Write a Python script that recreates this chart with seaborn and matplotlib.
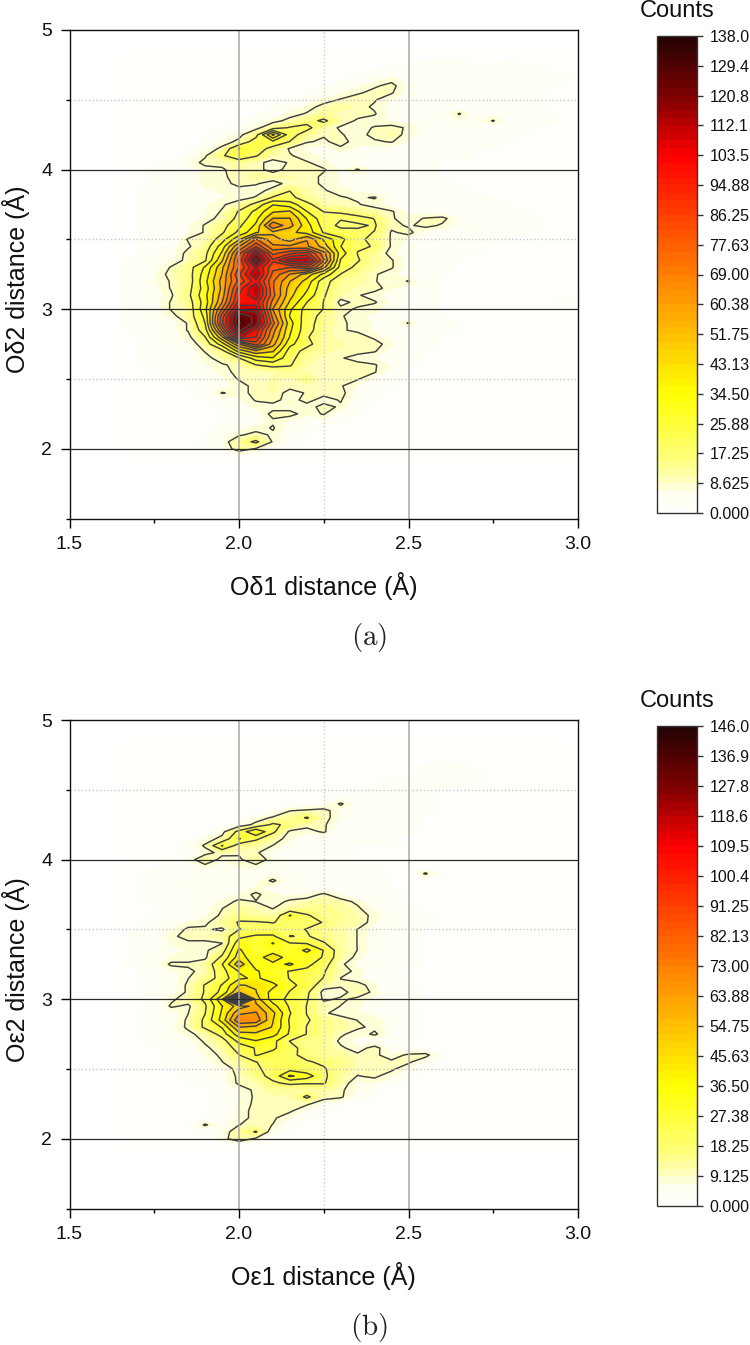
import numpy as np
import matplotlib
matplotlib.use('AGG')
from matplotlib import pyplot as plt
from matplotlib.colors import ListedColormap
import seaborn as sns

# bin centres of the two histograms
x_bins = [1.65, 1.70, 1.75, 1.80, 1.85, 1.90, 1.95, 2.00, 2.05, 2.10, 2.15, 2.20, 2.25, 2.30,
          2.35, 2.40, 2.45, 2.50, 2.55, 2.60, 2.65, 2.70, 2.75, 2.80, 2.85, 2.90, 2.95, 3.00]
y_bins = [4.85, 4.80, 4.75, 4.70, 4.65, 4.60, 4.55, 4.50, 4.45, 4.40, 4.35, 4.30, 4.25, 4.20, 4.15,
          4.10, 4.05, 4.00, 3.95, 3.90, 3.85, 3.80, 3.75, 3.70, 3.65, 3.60, 3.55, 3.50, 3.45, 3.40,
          3.35, 3.30, 3.25, 3.20, 3.15, 3.10, 3.05, 3.00, 2.95, 2.90, 2.85, 2.80, 2.75, 2.70, 2.65,
          2.60, 2.55, 2.50, 2.45, 2.40, 2.35, 2.30, 2.25, 2.20, 2.15, 2.10, 2.05, 2.00, 1.95, 1.90]

# counts, one row per y bin, trailing zeros left out
counts_a = [
    [0, 0, 0, 0, 0, 0, 0, 0, 0, 0, 0, 0, 0, 0, 0, 0, 0, 0, 1, 1, 1, 1, 1, 1, 1],
    [0, 0, 0, 0, 0, 0, 0, 0, 0, 0, 0, 0, 0, 0, 0, 0, 1, 1, 1, 2, 2, 2, 2, 2, 1, 1, 1],
    [0, 0, 0, 0, 0, 0, 0, 0, 0, 0, 0, 0, 0, 0, 1, 1, 2, 2, 3, 3, 3, 2, 2, 3, 2, 2, 1, 1],
    [0, 0, 0, 0, 0, 0, 0, 0, 0, 0, 0, 0, 0, 1, 2, 3, 4, 3, 3, 3, 3, 3, 3, 3, 3, 3, 2, 1],
    [0, 0, 0, 0, 0, 0, 0, 0, 0, 0, 0, 0, 1, 2, 3, 5, 7, 4, 3, 3, 3, 4, 3, 3, 3, 3, 3, 2],
    [0, 0, 0, 0, 0, 0, 0, 0, 0, 0, 0, 1, 2, 4, 6, 8, 10, 5, 3, 3, 3, 4, 3, 3, 3, 3, 2, 2],
    [0, 0, 0, 0, 0, 0, 0, 0, 0, 0, 1, 2, 4, 6, 8, 10, 9, 5, 4, 3, 4, 3, 3, 3, 3, 2, 2, 1],
    [0, 0, 0, 0, 0, 0, 0, 0, 0, 1, 2, 4, 7, 9, 11, 9, 6, 4, 3, 3, 3, 4, 3, 3, 3, 2, 2, 1],
    [0, 0, 0, 0, 0, 0, 0, 0, 1, 2, 5, 7, 10, 12, 10, 8, 5, 4, 3, 3, 4, 4, 3, 3, 3, 2, 2, 1],
    [0, 0, 0, 0, 0, 0, 0, 0, 2, 4, 7, 9, 12, 10, 10, 9, 5, 4, 3, 4, 9, 4, 4, 3, 3, 3, 2, 1],
    [0, 0, 0, 0, 0, 0, 0, 2, 4, 7, 10, 14, 19, 11, 8, 7, 6, 5, 4, 4, 6, 5, 9, 3, 3, 3, 2, 1],
    [0, 0, 0, 0, 0, 0, 2, 4, 7, 13, 18, 20, 11, 8, 7, 9, 10, 8, 5, 3, 4, 4, 3, 3, 3, 2, 2, 1],
    [0, 0, 0, 0, 0, 2, 4, 7, 14, 45, 21, 13, 9, 9, 7, 10, 11, 7, 4, 4, 3, 4, 3, 3, 2, 2, 1, 1],
    [0, 0, 0, 0, 0, 3, 6, 10, 22, 24, 17, 9, 8, 10, 7, 8, 9, 5, 4, 3, 3, 3, 3, 2, 2, 2, 1, 1],
    [0, 0, 0, 0, 2, 5, 10, 26, 22, 14, 8, 6, 5, 8, 6, 5, 5, 4, 3, 3, 3, 2, 2, 2, 2, 1, 1, 1],
    [0, 0, 0, 0, 3, 8, 16, 24, 18, 11, 9, 7, 6, 5, 4, 4, 3, 3, 3, 3, 3, 2, 2, 2, 2, 1, 1],
    [0, 0, 1, 3, 6, 10, 10, 12, 10, 7, 9, 9, 7, 5, 4, 3, 3, 3, 3, 2, 2, 2, 2, 2, 1, 1],
    [0, 2, 3, 3, 5, 7, 8, 11, 10, 7, 10, 10, 9, 6, 9, 5, 3, 3, 3, 2, 2, 2, 2, 1, 1, 1],
    [0, 1, 3, 4, 5, 7, 8, 10, 12, 11, 11, 10, 8, 6, 5, 4, 3, 3, 3, 2, 2, 2, 2, 1, 1, 1],
    [0, 1, 2, 4, 5, 7, 7, 10, 9, 7, 10, 10, 8, 6, 5, 4, 3, 3, 3, 3, 2, 2, 2, 2, 1, 1],
    [1, 2, 3, 4, 5, 6, 7, 7, 7, 10, 17, 11, 9, 7, 6, 4, 4, 3, 3, 3, 3, 2, 2, 2, 2, 1, 1],
    [1, 2, 3, 4, 5, 5, 6, 7, 9, 18, 20, 12, 10, 9, 8, 9, 5, 4, 3, 3, 3, 3, 2, 2, 2, 1, 1],
    [1, 2, 3, 4, 5, 6, 8, 11, 20, 34, 30, 20, 11, 10, 9, 7, 5, 4, 3, 3, 3, 3, 3, 2, 2, 2, 1, 1],
    [1, 2, 3, 4, 5, 6, 9, 18, 28, 42, 44, 26, 17, 17, 13, 11, 9, 6, 4, 3, 3, 3, 3, 3, 2, 2, 1, 1],
    [1, 2, 3, 4, 5, 7, 10, 20, 32, 52, 52, 34, 20, 18, 20, 17, 9, 7, 9, 10, 5, 3, 3, 3, 3, 2, 2, 1],
    [1, 2, 3, 4, 6, 9, 14, 24, 36, 68, 55, 38, 22, 15, 16, 18, 10, 8, 10, 8, 5, 4, 3, 3, 3, 2, 2, 1],
    [1, 2, 3, 4, 6, 9, 16, 28, 42, 50, 45, 40, 25, 21, 19, 17, 8, 10, 5, 4, 3, 3, 3, 3, 2, 2, 1, 1],
    [1, 2, 3, 4, 9, 10, 22, 42, 70, 55, 48, 60, 42, 28, 19, 15, 8, 6, 4, 3, 3, 3, 3, 2, 2, 2, 1, 1],
    [1, 2, 3, 5, 8, 12, 30, 60, 85, 62, 62, 62, 48, 26, 18, 17, 8, 5, 4, 3, 3, 3, 2, 2, 2, 1, 1, 1],
    [1, 2, 3, 5, 10, 15, 36, 75, 112, 75, 85, 90, 64, 30, 17, 12, 7, 5, 4, 3, 3, 2, 2, 2, 1, 1, 1, 1],
    [2, 3, 4, 6, 10, 16, 42, 80, 125, 88, 108, 110, 70, 25, 18, 12, 9, 5, 4, 3, 2, 2, 2, 2, 1, 1, 1],
    [2, 3, 5, 9, 13, 27, 50, 78, 105, 80, 78, 85, 55, 22, 15, 11, 9, 5, 3, 3, 2, 2, 2, 1, 1, 1],
    [2, 3, 6, 10, 13, 30, 52, 85, 112, 75, 60, 48, 32, 17, 13, 9, 7, 4, 3, 2, 2, 2, 2, 1, 1, 1],
    [2, 4, 6, 9, 12, 32, 55, 80, 100, 70, 52, 40, 20, 13, 12, 9, 6, 9, 3, 2, 2, 2, 1, 1, 1],
    [2, 3, 5, 9, 14, 30, 54, 90, 112, 70, 48, 36, 19, 12, 10, 10, 7, 4, 3, 2, 2, 2, 1, 1, 1, 0, 0, 1],
    [2, 3, 5, 8, 15, 32, 56, 95, 110, 72, 46, 32, 18, 11, 9, 7, 5, 4, 3, 2, 2, 1, 1, 1, 0, 1, 2, 3],
    [2, 3, 5, 9, 13, 30, 60, 98, 100, 66, 42, 26, 17, 7, 10, 9, 6, 4, 3, 2, 2, 1, 1, 1, 0, 1, 3, 2],
    [2, 3, 5, 9, 11, 32, 70, 110, 108, 60, 36, 22, 17, 10, 8, 7, 5, 4, 3, 2, 1, 1, 1, 1, 0, 0, 1, 1],
    [2, 3, 5, 7, 12, 28, 82, 128, 118, 66, 34, 22, 14, 9, 7, 6, 5, 4, 3, 2, 2, 1, 1],
    [2, 3, 4, 5, 9, 26, 85, 130, 118, 72, 38, 20, 14, 9, 8, 6, 5, 9, 3, 3, 2, 2, 1, 1],
    [2, 3, 4, 5, 9, 22, 70, 124, 100, 64, 36, 20, 13, 9, 8, 6, 5, 4, 3, 3, 2, 2, 1],
    [2, 2, 4, 5, 7, 17, 50, 105, 95, 60, 34, 18, 12, 10, 10, 8, 5, 4, 3, 2, 2, 1, 1],
    [1, 2, 3, 4, 5, 12, 30, 60, 82, 55, 28, 20, 12, 11, 10, 10, 7, 4, 3, 2, 1, 1],
    [1, 2, 3, 3, 4, 9, 14, 38, 50, 44, 22, 14, 12, 10, 10, 9, 5, 4, 2, 1, 1],
    [1, 2, 3, 3, 4, 7, 11, 17, 30, 34, 20, 12, 10, 9, 7, 6, 5, 3, 2, 1],
    [1, 2, 3, 3, 4, 6, 8, 10, 17, 20, 18, 11, 10, 10, 10, 9, 6, 3, 1],
    [0, 1, 2, 3, 4, 5, 7, 10, 9, 10, 13, 10, 10, 10, 10, 9, 4, 2, 1],
    [0, 1, 2, 2, 3, 4, 6, 9, 10, 11, 10, 15, 9, 10, 9, 5, 3, 1],
    [0, 0, 1, 2, 2, 3, 5, 7, 10, 11, 10, 10, 10, 9, 6, 3, 2, 1],
    [0, 0, 0, 1, 2, 3, 9, 7, 10, 11, 7, 9, 10, 10, 5, 3, 1],
    [0, 0, 0, 1, 1, 2, 4, 6, 9, 10, 7, 10, 7, 9, 4, 2, 1],
    [0, 0, 0, 0, 1, 2, 3, 5, 7, 7, 7, 7, 10, 8, 3, 1],
    [0, 0, 0, 0, 1, 1, 2, 4, 5, 10, 10, 7, 9, 4, 2],
    [0, 0, 0, 0, 0, 1, 2, 3, 4, 8, 6, 4, 5, 2, 1],
    [0, 0, 0, 0, 0, 1, 3, 5, 7, 9, 5, 3, 2, 1],
    [0, 0, 0, 0, 1, 2, 4, 8, 10, 8, 4, 2, 1],
    [0, 0, 0, 0, 1, 3, 6, 13, 19, 8, 3, 1],
    [0, 0, 0, 0, 0, 1, 4, 12, 8, 3, 1],
    [0, 0, 0, 0, 0, 0, 1, 2, 2, 1],
    [0],
]
counts_b = [
    [0, 0, 0, 0, 0, 0, 0, 0, 0, 0, 0, 0, 0, 0, 0, 0, 0, 0, 0, 0, 0, 0, 0, 1, 1, 1, 1],
    [0, 0, 0, 0, 0, 0, 0, 0, 0, 0, 0, 0, 0, 0, 0, 0, 0, 0, 0, 0, 1, 1, 1, 1, 1, 1, 1],
    [0, 0, 0, 0, 0, 0, 0, 0, 0, 0, 0, 0, 0, 0, 0, 0, 0, 0, 1, 1, 1, 1, 2, 1, 1, 1, 1],
    [0, 0, 0, 0, 0, 0, 0, 0, 0, 0, 0, 0, 0, 0, 1, 1, 1, 1, 2, 2, 2, 2, 2, 2, 1, 1, 1],
    [0, 0, 0, 0, 0, 0, 0, 0, 0, 0, 0, 0, 0, 0, 1, 1, 2, 2, 3, 3, 3, 2, 2, 1, 1, 1, 1, 1],
    [0, 0, 0, 0, 0, 0, 0, 0, 0, 0, 0, 0, 0, 0, 1, 2, 2, 2, 3, 3, 3, 3, 2, 2, 1, 1, 1, 1],
    [0, 0, 0, 0, 0, 0, 0, 0, 0, 0, 0, 0, 0, 1, 1, 2, 3, 3, 3, 3, 3, 2, 2, 2, 1, 1, 1, 1],
    [0, 0, 0, 0, 0, 0, 0, 0, 0, 0, 0, 0, 1, 1, 2, 3, 3, 3, 3, 2, 2, 2, 2, 1, 1, 1, 1, 1],
    [0, 0, 0, 0, 0, 0, 0, 0, 0, 0, 0, 1, 1, 2, 3, 3, 3, 3, 3, 2, 2, 2, 2, 2, 1, 1, 1, 1],
    [0, 0, 0, 0, 0, 0, 0, 0, 0, 1, 2, 3, 4, 10, 4, 3, 3, 3, 3, 2, 2, 2, 2, 2, 1, 1, 1, 1],
    [0, 0, 0, 0, 0, 0, 0, 0, 1, 3, 9, 10, 11, 6, 4, 3, 3, 3, 3, 2, 2, 2, 2, 2, 1, 1, 1, 1],
    [0, 0, 0, 0, 0, 0, 0, 2, 6, 10, 13, 19, 11, 6, 4, 3, 3, 3, 2, 2, 2, 2, 2, 1, 1, 1, 1, 1],
    [0, 0, 0, 0, 0, 0, 1, 5, 11, 20, 16, 11, 10, 4, 3, 3, 3, 3, 2, 2, 2, 2, 2, 1, 1, 1, 1, 1],
    [0, 0, 0, 0, 0, 1, 7, 21, 36, 20, 8, 7, 10, 3, 3, 3, 3, 3, 2, 2, 2, 2, 1, 1, 1, 1, 1],
    [0, 0, 0, 0, 1, 6, 11, 28, 20, 12, 7, 4, 3, 3, 3, 3, 2, 2, 2, 2, 2, 2, 1, 1, 1, 1],
    [0, 0, 0, 1, 4, 10, 28, 14, 12, 9, 5, 3, 3, 3, 2, 2, 3, 2, 2, 2, 2, 1, 1, 1, 1],
    [0, 0, 0, 1, 3, 7, 11, 10, 10, 5, 3, 3, 3, 3, 2, 2, 2, 2, 2, 2, 1, 1, 1, 1],
    [0, 1, 2, 3, 6, 14, 7, 8, 14, 6, 4, 3, 3, 3, 2, 2, 2, 2, 2, 1, 1, 1, 1],
    [0, 1, 2, 3, 4, 7, 6, 7, 7, 5, 4, 3, 3, 3, 3, 2, 2, 2, 2, 2, 1, 1, 1],
    [1, 2, 3, 3, 4, 5, 5, 5, 5, 5, 4, 4, 3, 3, 3, 3, 2, 2, 10, 2, 1, 1, 1, 1],
    [1, 2, 3, 4, 5, 5, 5, 5, 6, 10, 5, 4, 4, 3, 3, 3, 2, 2, 2, 2, 1, 1, 1, 1, 1],
    [1, 2, 3, 4, 4, 5, 5, 6, 7, 6, 5, 4, 4, 3, 3, 3, 2, 2, 2, 2, 2, 1, 1, 1, 1, 1],
    [1, 2, 3, 4, 4, 4, 5, 7, 10, 7, 6, 7, 10, 6, 4, 3, 3, 2, 2, 2, 2, 1, 1, 1, 1, 1, 1],
    [1, 2, 3, 3, 4, 5, 7, 10, 9, 7, 10, 11, 13, 11, 8, 4, 3, 2, 2, 2, 2, 2, 1, 1, 1, 1, 1, 1],
    [1, 2, 2, 3, 4, 6, 9, 13, 11, 9, 12, 14, 15, 13, 10, 5, 3, 3, 2, 2, 2, 2, 1, 1, 1, 1, 1, 1],
    [1, 1, 2, 3, 4, 6, 10, 15, 13, 11, 28, 19, 15, 14, 11, 8, 5, 3, 3, 2, 2, 2, 2, 2, 1, 1, 1, 1],
    [1, 1, 4, 5, 7, 8, 13, 19, 19, 18, 20, 20, 18, 13, 12, 7, 4, 3, 3, 2, 2, 2, 2, 2, 1, 1, 1, 1],
    [1, 2, 4, 6, 10, 10, 8, 18, 20, 21, 20, 18, 15, 12, 9, 5, 3, 3, 2, 2, 2, 2, 2, 2, 1, 1, 1, 1],
    [2, 3, 4, 8, 11, 11, 13, 25, 29, 29, 18, 19, 15, 12, 9, 5, 3, 3, 2, 2, 2, 2, 2, 2, 2, 1, 1, 1],
    [2, 3, 4, 7, 8, 8, 9, 33, 29, 37, 28, 27, 19, 12, 9, 5, 3, 3, 2, 2, 2, 2, 2, 2, 2, 1, 1, 1],
    [2, 3, 4, 6, 7, 8, 14, 38, 28, 30, 29, 39, 27, 13, 9, 5, 3, 3, 2, 2, 2, 2, 2, 2, 2, 1, 1, 1],
    [2, 3, 5, 7, 7, 8, 20, 41, 30, 45, 30, 30, 27, 12, 8, 4, 3, 3, 2, 2, 2, 2, 2, 2, 1, 1, 1, 1],
    [2, 3, 5, 10, 10, 12, 27, 52, 31, 33, 38, 30, 22, 10, 6, 4, 3, 3, 2, 2, 2, 2, 2, 1, 1, 1, 1, 1],
    [2, 2, 4, 6, 8, 11, 24, 37, 38, 30, 27, 25, 19, 11, 8, 4, 3, 2, 2, 2, 2, 2, 2, 1, 1, 1, 1, 1],
    [2, 2, 3, 5, 9, 13, 22, 35, 38, 32, 27, 22, 18, 9, 7, 4, 3, 2, 2, 2, 2, 2, 2, 1, 1, 1, 1],
    [2, 2, 3, 5, 10, 19, 28, 46, 45, 39, 29, 25, 12, 10, 11, 7, 4, 3, 2, 2, 2, 2, 1, 1, 1, 1, 1],
    [1, 2, 3, 5, 10, 19, 30, 55, 46, 33, 27, 20, 7, 7, 12, 8, 4, 3, 2, 2, 2, 2, 1, 1, 1, 1],
    [1, 2, 3, 8, 12, 20, 44, 146, 50, 32, 25, 19, 8, 10, 8, 5, 4, 3, 2, 2, 2, 1, 1, 1],
    [1, 2, 3, 10, 8, 17, 36, 50, 58, 40, 26, 18, 12, 9, 7, 5, 3, 3, 2, 2, 2, 1, 1, 1],
    [1, 2, 3, 5, 9, 18, 38, 62, 65, 48, 28, 18, 10, 7, 7, 5, 3, 3, 2, 2, 2, 1, 1],
    [1, 2, 3, 5, 10, 20, 40, 72, 70, 46, 26, 19, 15, 12, 9, 9, 5, 3, 2, 2, 1, 1, 1],
    [2, 2, 3, 6, 10, 20, 28, 55, 52, 45, 27, 18, 15, 13, 10, 8, 5, 3, 2, 2, 1, 1],
    [2, 2, 3, 5, 8, 11, 22, 42, 44, 40, 26, 18, 15, 10, 7, 10, 5, 3, 2, 2, 1, 1],
    [1, 2, 3, 4, 5, 10, 14, 30, 36, 30, 18, 14, 14, 8, 6, 4, 3, 2, 2, 1, 1],
    [1, 2, 2, 3, 5, 8, 12, 22, 28, 29, 21, 15, 14, 10, 7, 11, 5, 3, 2, 2, 1],
    [1, 2, 2, 3, 4, 7, 10, 18, 28, 24, 20, 16, 14, 13, 10, 10, 7, 10, 11, 3, 1],
    [1, 1, 2, 3, 4, 5, 9, 13, 18, 22, 22, 19, 17, 15, 11, 11, 10, 10, 5, 2],
    [0, 1, 2, 2, 3, 4, 6, 11, 17, 21, 24, 21, 19, 14, 10, 10, 10, 6, 3, 1],
    [0, 1, 1, 2, 3, 3, 6, 10, 15, 21, 38, 32, 20, 12, 9, 10, 7, 3, 1],
    [0, 0, 1, 2, 2, 3, 5, 10, 11, 17, 20, 19, 19, 12, 6, 7, 4, 1],
    [0, 0, 1, 1, 2, 2, 4, 7, 10, 13, 12, 12, 13, 10, 6, 3, 1],
    [0, 0, 1, 1, 1, 2, 4, 6, 10, 11, 11, 20, 11, 10, 4, 2],
    [0, 0, 0, 1, 1, 2, 3, 7, 10, 10, 11, 10, 6, 3, 1],
    [0, 0, 1, 2, 2, 2, 3, 8, 10, 10, 10, 5, 3, 1],
    [0, 0, 1, 1, 2, 2, 3, 8, 10, 10, 6, 3, 1],
    [0, 0, 0, 1, 2, 10, 4, 9, 11, 9, 4, 1],
    [0, 0, 0, 0, 2, 3, 6, 13, 19, 5, 2],
    [0, 0, 0, 0, 1, 2, 7, 13, 8, 2],
    [0, 0, 0, 0, 0, 1, 1, 2, 1],
    [0],
]

max_a = 138.0
max_b = 146.0
bar_labels_a = ['0.000', '8.625', '17.25', '25.88', '34.50', '43.13', '51.75', '60.38', '69.00',
                '77.63', '86.25', '94.88', '103.5', '112.1', '120.8', '129.4', '138.0']
bar_labels_b = ['0.000', '9.125', '18.25', '27.38', '36.50', '45.63', '54.75', '63.88', '73.00',
                '82.13', '91.25', '100.4', '109.5', '118.6', '127.8', '136.9', '146.0']
x_label_a = 'O\u03b41 distance (\u00c5)'
y_label_a = 'O\u03b42 distance (\u00c5)'
x_label_b = 'O\u03b51 distance (\u00c5)'
y_label_b = 'O\u03b52 distance (\u00c5)'

WIDTH, HEIGHT = 750, 1345

sns.set_theme(style='ticks')
plt.rcParams['font.family'] = ['Liberation Sans', 'DejaVu Sans']
plt.rcParams['mathtext.fontset'] = 'cm'

# the low end stays close to white, the faint wisps hardly show in the original
low = sns.blend_palette(['#ffffff', '#fffff0', '#ffffa8', '#ffff70'], n_colors=32)
high = sns.blend_palette(['#ffff70', '#ffff00', '#ffc000', '#ff8000', '#ff4000',
                          '#ff0000', '#800000', '#250303'], n_colors=224)
fire = ListedColormap(list(low) + list(high))


def box(left, top, right, bottom):
    # pixel box to figure fractions
    return [left / WIDTH, 1 - bottom / HEIGHT, (right - left) / WIDTH, (bottom - top) / HEIGHT]


def draw_panel(fig, rows, vmax, labels, xlabel, ylabel, tag, offset, bar_top, bar_bottom):
    grid = np.array([r + [0] * (len(x_bins) - len(r)) for r in rows], dtype=float)
    ax = fig.add_axes(box(69.5, 30 + offset, 578, 518.6 + offset))

    fill = ax.contourf(x_bins, y_bins, grid, levels=np.linspace(0, vmax, 65), cmap=fire, vmin=0, vmax=vmax)
    ax.contour(x_bins, y_bins, grid, levels=np.linspace(0, vmax, 17)[1:], colors='#404040', linewidths=1.05)

    ax.set_xlim(1.5, 3.0)
    ax.set_ylim(1.5, 5.0)
    ax.set_xticks([1.5, 2.0, 2.5, 3.0])
    ax.set_xticklabels(['1.5', '2.0', '2.5', '3.0'])
    ax.set_xticks([1.75, 2.25, 2.75], minor=True)
    ax.set_yticks([2, 3, 4, 5])
    ax.set_yticks([1.5, 2.5, 3.5, 4.5], minor=True)
    ax.tick_params(which='major', length=6.5, width=1, labelsize=14, color='black', labelcolor='#111111', pad=6)
    ax.tick_params(which='minor', length=3.2, width=1, color='black')

    for v in [2.0, 2.5]:
        ax.axvline(v, color='#a8a8a8', lw=1.1, zorder=5)
    ax.axvline(2.25, color='#cccccc', lw=1, ls=':', zorder=5)
    for v in [2, 3, 4]:
        ax.axhline(v, color='#2a2a2a', lw=0.9, zorder=5)
    for v in [2.5, 3.5, 4.5]:
        ax.axhline(v, color='#c4c4c4', lw=1, ls=':', zorder=5)

    for s in ax.spines.values():
        s.set_linewidth(1)
        s.set_color('#111111')
        s.set_zorder(6)

    ax.set_xlabel(xlabel, fontsize=18, color='#111111', va='center')
    ax.set_ylabel(ylabel, fontsize=18, color='#111111', va='center')
    ax.xaxis.set_label_coords(0.5, -67 / 488.6)
    ax.yaxis.set_label_coords(-53 / 508.5, 0.49)

    # colour scale next to the map
    cax = fig.add_axes(box(657, bar_top, 697, bar_bottom))
    bar = fig.colorbar(fill, cax=cax, ticks=np.linspace(0, vmax, 17))
    bar.set_ticklabels(labels)
    bar.ax.tick_params(length=4, width=1, labelsize=11.5, pad=5, color='#333333', labelcolor='#111111')
    bar.outline.set_linewidth(1)
    bar.outline.set_edgecolor('#333333')
    fig.text(677 / WIDTH, 1 - (bar_top - 25) / HEIGHT, 'Counts', fontsize=17, ha='center', va='center',
             color='#111111')

    fig.text(369 / WIDTH, 1 - (637 + offset) / HEIGHT, '$\\mathrm{' + tag + '}$', fontsize=21,
             ha='center', va='center', color='#222222')


fig = plt.figure(figsize=(WIDTH / 100, HEIGHT / 100), dpi=100)
draw_panel(fig, counts_a, max_a, bar_labels_a, x_label_a, y_label_a, '(a)', 0, 36, 513)
draw_panel(fig, counts_b, max_b, bar_labels_b, x_label_b, y_label_b, '(b)', 690, 726, 1206)
fig.savefig('out.png', dpi=100)
